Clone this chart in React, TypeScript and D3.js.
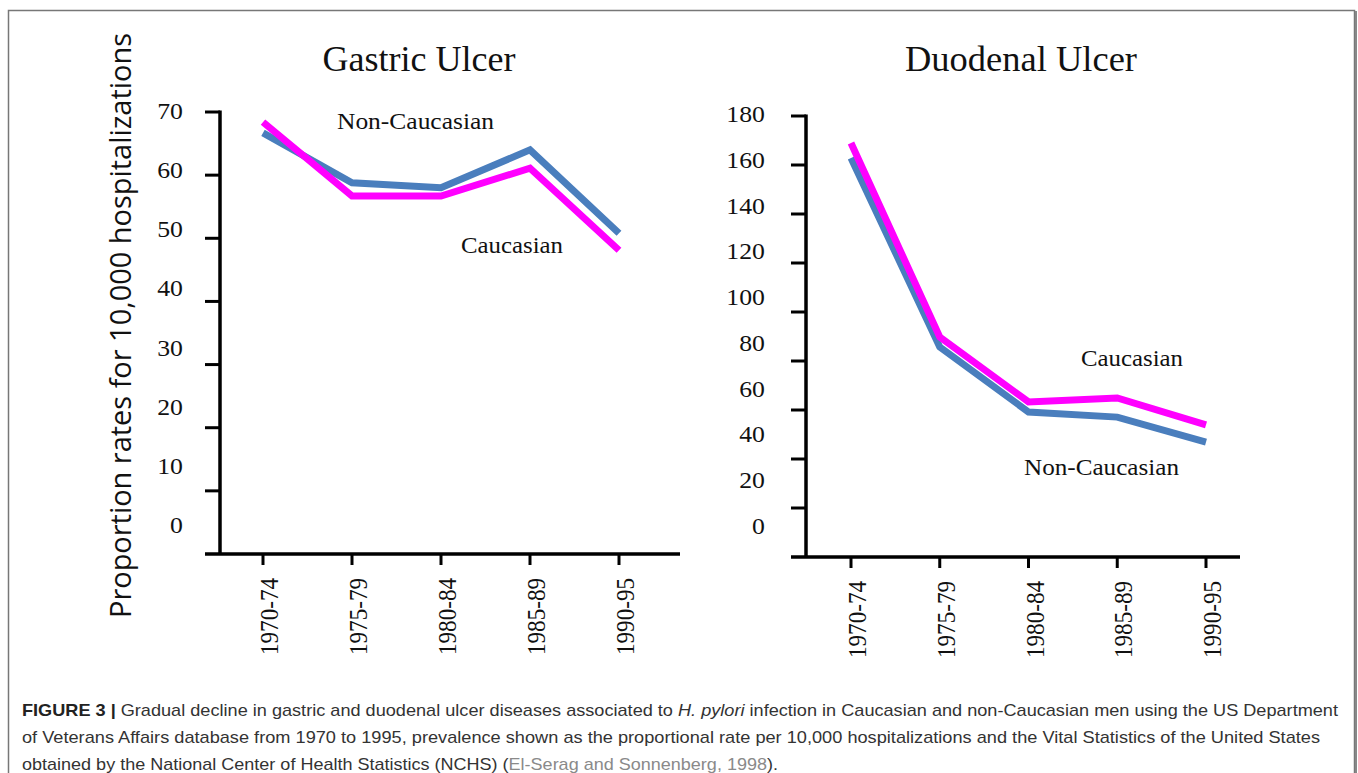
import React from "react";
import * as d3 from "d3";

const periods = ["1970-74", "1975-79", "1980-84", "1985-89", "1990-95"];

const gastricNonCaucasian = [66.7, 58.8, 58.0, 64.0, 50.8];
const gastricCaucasian = [68.4, 56.7, 56.7, 61.1, 48.1];
const gastricTicks = [10, 20, 30, 40, 50, 60, 70];
const gastricTickLabels = [0, 10, 20, 30, 40, 50, 60, 70];

const duodenalNonCaucasian = [162.9, 85.7, 59.2, 57.1, 46.9];
const duodenalCaucasian = [169, 89.8, 63.3, 64.9, 53.9];
const duodenalTicks = [20, 40, 60, 80, 100, 120, 140, 160, 180];
const duodenalTickLabels = [0, 20, 40, 60, 80, 100, 120, 140, 160, 180];

const BLUE = "#4a7ebd";
const PINK = "#ff00ff";
const SERIF = "'Liberation Serif', 'Times New Roman', serif";
const SANS = "'Liberation Sans', Arial, sans-serif";

type PanelProps = {
  title: string;
  titleX: number;
  titleLen: number;
  axisX: number;
  axisTop: number;
  baseY: number;
  baseRight: number;
  xRange: [number, number];
  yMax: number;
  labelRange: [number, number];
  ticks: number[];
  tickLabels: number[];
  labelRight: number;
  nonCauc: number[];
  cauc: number[];
  ann: { text: string; x: number; y: number; len: number }[];
};

function Panel(p: PanelProps) {
  const x = d3.scalePoint<string>().domain(periods).range(p.xRange);
  const y = d3.scaleLinear().domain([0, p.yMax]).range([p.baseY, p.axisTop]);
  const yl = d3.scaleLinear().domain([0, p.yMax]).range(p.labelRange);
  const line = d3
    .line<number>()
    .x((_, i) => x(periods[i]) as number)
    .y((d) => y(d));
  return (
    <g>
      <text
        x={p.titleX - p.titleLen / 2}
        y={71}
        fontFamily={SERIF}
        fontSize={35}
        fill="#111"
        textLength={p.titleLen}
        lengthAdjust="spacingAndGlyphs"
      >
        {p.title}
      </text>
      <line x1={p.axisX} x2={p.axisX} y1={p.axisTop - 1.5} y2={p.baseY} stroke="#000" strokeWidth={3.5} />
      {p.ticks.map((t) => (
        <line key={t} x1={p.axisX - 15} x2={p.axisX} y1={y(t)} y2={y(t)} stroke="#000" strokeWidth={3} />
      ))}
      {p.tickLabels.map((t) => (
        <text
          key={"l" + t}
          x={p.labelRight}
          y={yl(t)}
          dy="0.35em"
          textAnchor="end"
          fontFamily={SERIF}
          fontSize={23}
          fill="#111"
          transform={`translate(${p.labelRight},0) scale(1.12,1) translate(${-p.labelRight},0)`}
        >
          {t}
        </text>
      ))}
      <line x1={p.axisX - 15} x2={p.baseRight} y1={p.baseY} y2={p.baseY} stroke="#000" strokeWidth={3.5} />
      {periods.map((c) => (
        <g key={c}>
          <line x1={x(c)} x2={x(c)} y1={p.baseY} y2={p.baseY + 11} stroke="#000" strokeWidth={3} />
          <text
            transform={`translate(${(x(c) as number) + 15},${p.baseY + 24}) rotate(-90)`}
            textAnchor="end"
            fontFamily={SERIF}
            fontSize={25}
            fill="#111"
            textLength={77}
            lengthAdjust="spacingAndGlyphs"
          >
            {c}
          </text>
        </g>
      ))}
      <path d={line(p.nonCauc) as string} fill="none" stroke={BLUE} strokeWidth={7} strokeLinejoin="miter" />
      <path d={line(p.cauc) as string} fill="none" stroke={PINK} strokeWidth={7} strokeLinejoin="miter" />
      {p.ann.map((a) => (
        <text
          key={a.text}
          x={a.x}
          y={a.y}
          fontFamily={SERIF}
          fontSize={23}
          fill="#111"
          textLength={a.len}
          lengthAdjust="spacingAndGlyphs"
        >
          {a.text}
        </text>
      ))}
    </g>
  );
}

export default function App() {
  return (
    <svg
      width={1358}
      height={773}
      style={{ position: "absolute", left: 0, top: 0, background: "#fff" }}
    >
      <rect x={0} y={0} width={1358} height={773} fill="#fff" />
      <rect x={8.5} y={10.5} width={1346} height={800} fill="none" stroke="#777" strokeWidth={1.5} />
      <line x1={1356} x2={1356} y1={11} y2={773} stroke="#888" strokeWidth={2} />

      <text
        transform="translate(131,618) rotate(-90)"
        fontFamily="'Open Sans', 'Noto Sans', sans-serif"
        fontSize={29}
        fill="#111"
        textLength={585}
        lengthAdjust="spacingAndGlyphs"
      >
        Proportion rates for 10,000 hospitalizations
      </text>

      <Panel
        title="Gastric Ulcer"
        titleX={419}
        titleLen={193}
        axisX={220}
        axisTop={112}
        baseY={554}
        baseRight={680}
        xRange={[263, 619]}
        yMax={70}
        labelRange={[525, 111]}
        ticks={gastricTicks}
        tickLabels={gastricTickLabels}
        labelRight={183}
        nonCauc={gastricNonCaucasian}
        cauc={gastricCaucasian}
        ann={[
          { text: "Non-Caucasian", x: 337, y: 129, len: 157 },
          { text: "Caucasian", x: 461, y: 253, len: 102 },
        ]}
      />
      <Panel
        title="Duodenal Ulcer"
        titleX={1021}
        titleLen={232}
        axisX={806}
        axisTop={116}
        baseY={557}
        baseRight={1240}
        xRange={[851, 1206]}
        yMax={180}
        labelRange={[526, 114]}
        ticks={duodenalTicks}
        tickLabels={duodenalTickLabels}
        labelRight={765}
        nonCauc={duodenalNonCaucasian}
        cauc={duodenalCaucasian}
        ann={[
          { text: "Caucasian", x: 1081, y: 366, len: 102 },
          { text: "Non-Caucasian", x: 1024, y: 475, len: 155 },
        ]}
      />

      <g fontFamily={SANS} fontSize={17} fill="#333">
        <text x={22} y={716} textLength={1316} lengthAdjust="spacingAndGlyphs">
          <tspan fontWeight="bold" fill="#222">FIGURE 3 |</tspan>
          <tspan> Gradual decline in gastric and duodenal ulcer diseases associated to </tspan>
          <tspan fontStyle="italic">H. pylori</tspan>
          <tspan> infection in Caucasian and non-Caucasian men using the US Department</tspan>
        </text>
        <text x={22} y={743} textLength={1298} lengthAdjust="spacingAndGlyphs">
          of Veterans Affairs database from 1970 to 1995, prevalence shown as the proportional rate per 10,000 hospitalizations and the Vital Statistics of the United States
        </text>
        <text x={22} y={770} textLength={756} lengthAdjust="spacingAndGlyphs">
          <tspan>obtained by the National Center of Health Statistics (NCHS) (</tspan>
          <tspan fill="#8a8a8a">El-Serag and Sonnenberg, 1998</tspan>
          <tspan>).</tspan>
        </text>
      </g>
    </svg>
  );
}
